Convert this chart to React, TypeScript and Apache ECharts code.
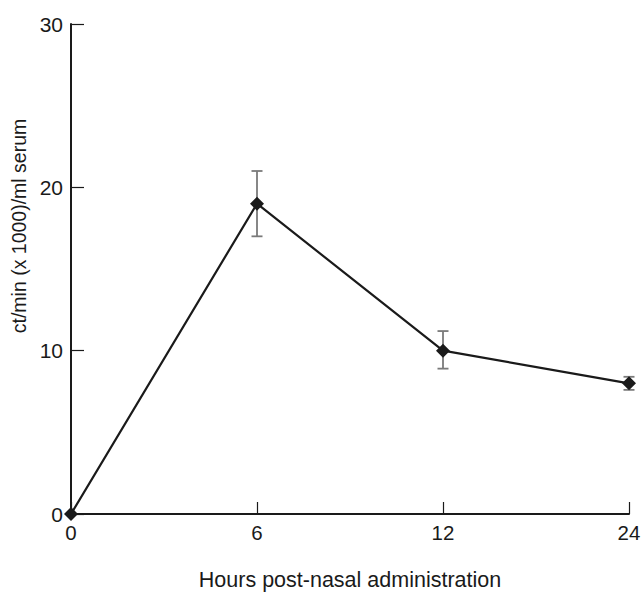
import React, { useEffect, useRef } from "react";
import * as echarts from "echarts";

const hours = ["0", "6", "12", "24"];
const means = [0, 19, 10, 8];
const errLow = [null, 17, 8.9, 7.6];
const errHigh = [null, 21, 11.2, 8.4];
const yTicks = { min: 0, max: 30, interval: 10 };

export default function App() {
  const ref = useRef<HTMLDivElement>(null);
  useEffect(() => {
    const chart = echarts.init(ref.current!, null, { renderer: "svg" });
    const errData = hours
      .map((_, i) => [i, errLow[i], errHigh[i]])
      .filter((d) => d[1] !== null);
    const font = "Liberation Sans, Arial, sans-serif";
    chart.setOption({
      animation: false,
      grid: { left: 71, right: 12, top: 24, bottom: 78, outerBoundsMode: "none", containLabel: false },
      xAxis: {
        type: "category",
        data: hours,
        boundaryGap: false,
        name: "Hours post-nasal administration",
        nameLocation: "middle",
        nameGap: 55,
        nameTextStyle: { fontSize: 21.5, lineHeight: 22, color: "#1a1a1a", fontFamily: font },
        axisLine: { lineStyle: { color: "#1a1a1a", width: 2 } },
        axisTick: { inside: true, length: 12, lineStyle: { color: "#1a1a1a", width: 1.2 } },
        axisLabel: { fontSize: 20.5, color: "#1a1a1a", fontFamily: font, margin: 8 },
        splitLine: { show: false },
      },
      yAxis: {
        type: "value",
        min: yTicks.min,
        max: yTicks.max,
        interval: yTicks.interval,
        name: "ct/min (x 1000)/ml serum",
        nameLocation: "middle",
        nameGap: 41,
        nameRotate: 90,
        nameTextStyle: { fontSize: 19.5, color: "#1a1a1a", fontFamily: font, padding: [0, 0, 0, 86] },
        axisLine: { show: true, lineStyle: { color: "#1a1a1a", width: 2 } },
        axisTick: { show: true, inside: true, length: 13, lineStyle: { color: "#1a1a1a", width: 1.2 } },
        axisLabel: { fontSize: 21, color: "#1a1a1a", fontFamily: font, margin: 8 },
        splitLine: { show: false },
      },
      series: [
        {
          type: "custom",
          z: 1,
          data: errData,
          renderItem: (params: any, api: any) => {
            const x = api.value(0);
            const lo = api.coord([x, api.value(1)]);
            const hi = api.coord([x, api.value(2)]);
            const w = 5.5;
            const style = { stroke: "#7a7a7a", lineWidth: 1.8 };
            return {
              type: "group",
              children: [
                { type: "line", shape: { x1: lo[0], y1: lo[1], x2: hi[0], y2: hi[1] }, style },
                { type: "line", shape: { x1: lo[0] - w, y1: lo[1], x2: lo[0] + w, y2: lo[1] }, style },
                { type: "line", shape: { x1: hi[0] - w, y1: hi[1], x2: hi[0] + w, y2: hi[1] }, style },
              ],
            };
          },
        },
        {
          type: "line",
          z: 3,
          data: means,
          symbol: "diamond",
          symbolSize: 14,
          lineStyle: { color: "#1a1a1a", width: 2.2 },
          itemStyle: { color: "#1a1a1a" },
        },
      ],
    });
    return () => chart.dispose();
  }, []);
  return <div ref={ref} style={{ width: 641, height: 592, position: "absolute", left: 0, top: 0 }} />;
}
